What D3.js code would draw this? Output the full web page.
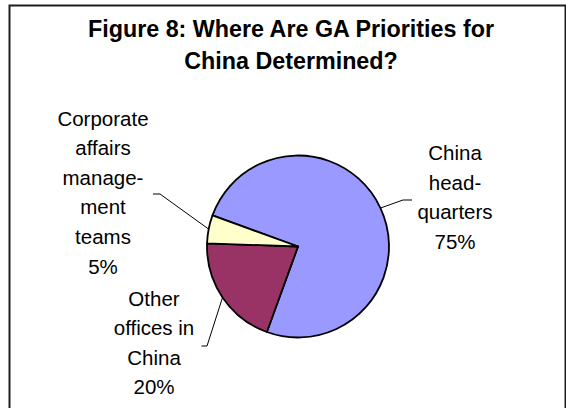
<!DOCTYPE html>
<html>
<head>
<meta charset="utf-8">
<script src="https://cdn.jsdelivr.net/npm/d3@7"></script>
<style>
  html, body { margin: 0; padding: 0; background: #fff; }
  svg { display: block; }
</style>
</head>
<body>
<svg id="chart" width="566" height="408"></svg>
<script>
// Survey shares: where GA priorities for China are set
const categories = [
  ["China", "head-", "quarters"],
  ["Other", "offices in", "China"],
  ["Corporate", "affairs", "manage-", "ment", "teams"]
];
const values = [75, 20, 5];
const colors = ["#9999FF", "#993366", "#FFFFCC"];
const titleLines = ["Figure 8: Where Are GA Priorities for", "China Determined?"];

// Label block placement (centre x, first baseline) and leader elbows
const labelLayout = [
  { x: 455, y: 160, elbow: [403, 200], end: [412, 200] },
  { x: 154, y: 305.5, elbow: [207, 346], end: [201.5, 346] },
  { x: 103, y: 125.5, elbow: [160, 194], end: [153, 194] }
];

const W = 566, H = 408;
const cx = 298, cy = 246.5, R = 91;
const lineStep = 29.6;
const font = "'Liberation Sans', Arial, sans-serif";

const svg = d3.select("#chart");

// Chart frame (runs past the right and bottom edges)
svg.append("rect")
  .attr("x", 9.5).attr("y", 5.5)
  .attr("width", 556).attr("height", 420)
  .attr("fill", "#fff")
  .attr("stroke", "#1e1e1e")
  .attr("stroke-width", 2);

// Title
svg.append("g")
  .selectAll("text")
  .data(titleLines)
  .join("text")
  .attr("x", 291)
  .attr("y", (d, i) => 36.5 + i * 32.8)
  .attr("text-anchor", "middle")
  .attr("font-family", font)
  .attr("font-weight", "bold")
  .attr("font-size", 23.3)
  .attr("fill", "#000")
  .text(d => d);

// Pie
const deg = Math.PI / 180;
const pie = d3.pie()
  .sort(null)
  .value(d => d)
  .startAngle(290 * deg)
  .endAngle(650 * deg);
const arcs = pie(values);

const arc = d3.arc().innerRadius(0).outerRadius(R);
const rim = d3.arc().innerRadius(R).outerRadius(R);

const g = svg.append("g").attr("transform", `translate(${cx},${cy})`);
g.selectAll("path")
  .data(arcs)
  .join("path")
  .attr("d", arc)
  .attr("fill", (d, i) => colors[i])
  .attr("stroke", "#000")
  .attr("stroke-width", 1.8)
  .attr("stroke-linejoin", "round");

// Leader lines from the slice rim to each label
svg.append("g")
  .selectAll("polyline")
  .data(arcs)
  .join("polyline")
  .attr("points", (d, i) => {
    const [px, py] = rim.centroid(d);
    const L = labelLayout[i];
    return [[cx + px, cy + py], L.elbow, L.end].map(p => p.join(",")).join(" ");
  })
  .attr("fill", "none")
  .attr("stroke", "#000")
  .attr("stroke-width", 1);

// Category labels with percentages
const labels = svg.append("g")
  .attr("font-family", font)
  .attr("font-size", 20.5)
  .attr("fill", "#000")
  .attr("text-anchor", "middle");

arcs.forEach((d, i) => {
  const lines = categories[i].concat([values[i] + "%"]);
  const L = labelLayout[i];
  labels.append("text")
    .selectAll("tspan")
    .data(lines)
    .join("tspan")
    .attr("x", L.x)
    .attr("y", (t, k) => L.y + k * lineStep)
    .text(t => t);
});
</script>
</body>
</html>
